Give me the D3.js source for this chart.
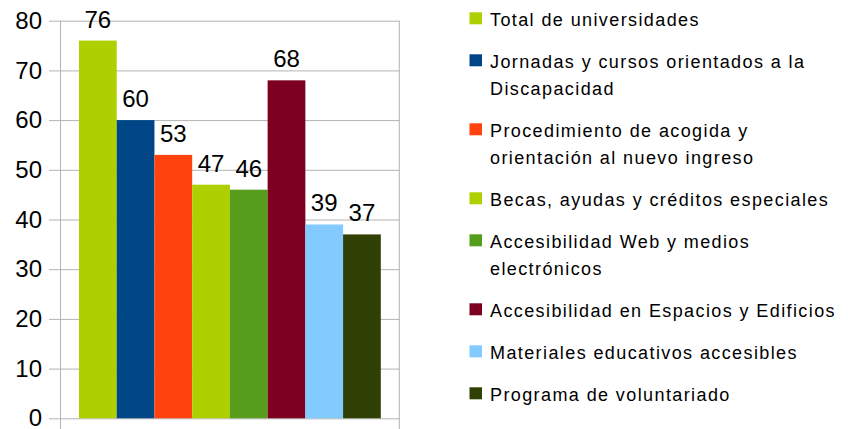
<!DOCTYPE html>
<html>
<head>
<meta charset="utf-8">
<script src="https://cdn.jsdelivr.net/npm/d3@7"></script>
<style>
  body { margin: 0; background: #fff; }
  svg { display: block; font-family: "Liberation Sans", Arial, sans-serif; }
</style>
</head>
<body>
<svg id="chart" width="848" height="429"></svg>
<script>
// data
var series = ["Total de universidades",
              "Jornadas y cursos orientados a la Discapacidad",
              "Procedimiento de acogida y orientación al nuevo ingreso",
              "Becas, ayudas y créditos especiales",
              "Accesibilidad Web y medios electrónicos",
              "Accesibilidad en Espacios y Edificios",
              "Materiales educativos accesibles",
              "Programa de voluntariado"];
var values = [76, 60, 53, 47, 46, 68, 39, 37];
var colors = ["#aecf00", "#004586", "#ff420e", "#aecf00", "#579d1c", "#7e0021", "#83caff", "#314004"];
var yTicks = [0, 10, 20, 30, 40, 50, 60, 70, 80];

var svg = d3.select("#chart");

let plotLeft = 60.5, plotRight = 399.3, plotTop = 20.7, plotBottom = 418.3;
let gridColor = "#b3b3b3";

var yScale = d3.scaleLinear().domain([0, 80]).range([plotBottom, plotTop]);
var xScale = d3.scaleBand().domain(series).range([plotLeft, plotRight]).paddingInner(0).paddingOuter(0.49);

// gridlines + left ticks
var yAxis = d3.axisLeft(yScale).tickValues(yTicks).tickSize(11.5).tickPadding(7);
var gy = svg.append("g")
    .attr("transform", `translate(${plotLeft},0)`)
    .call(yAxis);
gy.select(".domain").remove();
gy.selectAll(".tick line").attr("stroke", gridColor).attr("x2", plotRight - plotLeft).attr("x1", -11.5);
gy.selectAll(".tick text")
    .attr("fill", "#000")
    .attr("font-size", "24px")
    .attr("font-family", "Liberation Sans, Arial, sans-serif")
    .attr("x", -18.5);

// frame lines (left axis, right border) with small ticks below the baseline
svg.append("line").attr("x1", plotLeft).attr("x2", plotLeft).attr("y1", plotTop).attr("y2", plotBottom + 11)
    .attr("stroke", gridColor);
svg.append("line").attr("x1", plotRight).attr("x2", plotRight).attr("y1", plotTop).attr("y2", plotBottom + 11)
    .attr("stroke", gridColor);

// bars
svg.append("g").selectAll("rect")
    .data(series)
    .enter()
    .append("rect")
      .attr("x", d => xScale(d))
      .attr("y", (d, i) => yScale(values[i]))
      .attr("width", xScale.bandwidth())
      .attr("height", (d, i) => yScale(0) - yScale(values[i]))
      .attr("fill", (d, i) => colors[i]);

// value labels
svg.append("g").selectAll("text")
    .data(series)
    .enter()
    .append("text")
      .attr("x", d => xScale(d) + xScale.bandwidth() / 2)
      .attr("y", (d, i) => yScale(values[i]) - 13)
      .attr("text-anchor", "middle")
      .attr("font-size", "24px")
      .attr("fill", "#000")
      .text((d, i) => values[i]);

// legend
let lgX = 469.5, lgTextX = 490, lgMaxW = 360;
let lineH = 27, itemGap = 42;
let cy = 18.3;
var legend = svg.append("g");
series.forEach(function(name, i) {
    let g = legend.append("g");
    g.append("rect")
        .attr("x", lgX).attr("y", cy - 6)
        .attr("width", 12.5).attr("height", 12)
        .attr("fill", colors[i]);
    let t = g.append("text")
        .attr("x", lgTextX)
        .attr("y", cy + 7.5)
        .attr("font-size", "18px")
        .attr("letter-spacing", "1.4px")
        .attr("fill", "#000");
    // simple word wrap
    let words = name.split(" ");
    let lines = [];
    let cur = "";
    words.forEach(w => {
        let test = cur ? cur + " " + w : w;
        t.text(test);
        if (cur && t.node().getComputedTextLength() > lgMaxW) {
            lines.push(cur);
            cur = w;
        } else {
            cur = test;
        }
    });
    lines.push(cur);
    t.text(null);
    lines.forEach((ln, k) => {
        t.append("tspan").attr("x", lgTextX).attr("dy", k == 0 ? 0 : lineH).text(ln);
    });
    cy += itemGap + lineH * (lines.length - 1);
});
</script>
</body>
</html>
